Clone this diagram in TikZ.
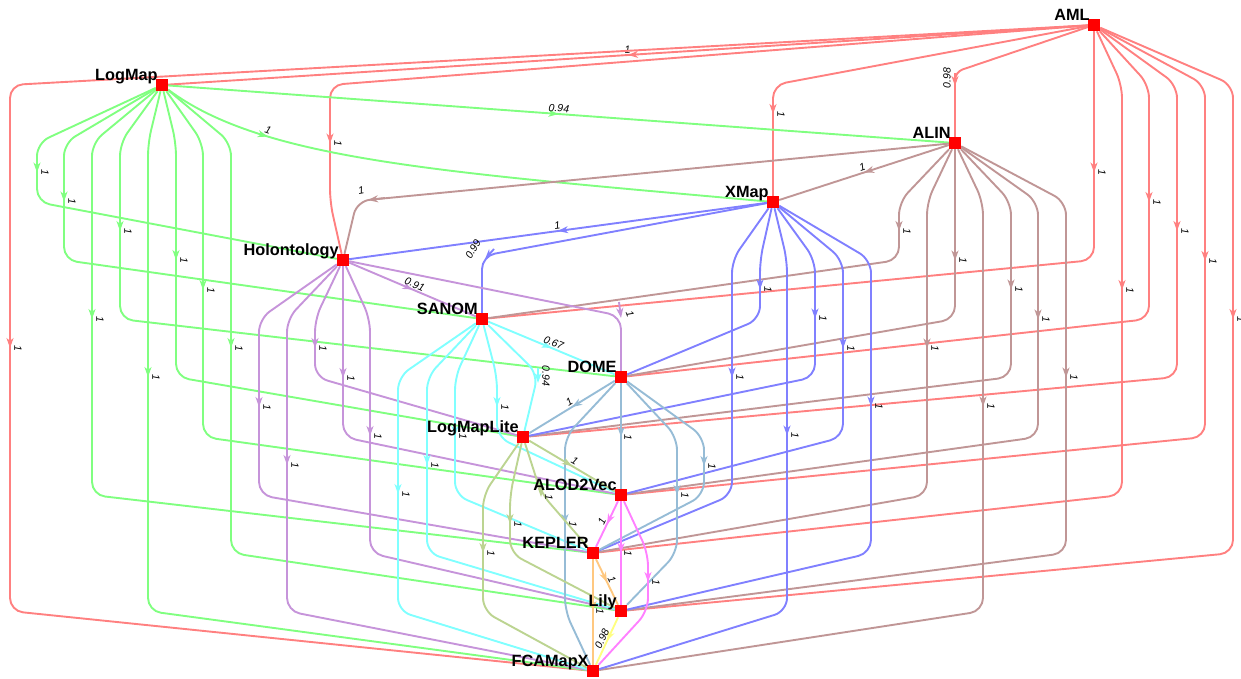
\documentclass[tikz,border=0pt]{standalone}
\usepackage{fontspec}
\setmainfont{Liberation Sans}
\usepackage{tikz}
\usetikzlibrary{arrows.meta,calc,decorations.markings}
\usepackage{xcolor}
\definecolor{boxred}{RGB}{255,0,0}
\definecolor{amlred}{RGB}{255,128,128}
\definecolor{logmapgreen}{RGB}{128,255,128}
\definecolor{alinbrown}{RGB}{192,150,150}
\definecolor{xmapblue}{RGB}{128,128,255}
\definecolor{holopurple}{RGB}{198,148,218}
\definecolor{sanomcyan}{RGB}{128,255,255}
\definecolor{domesteel}{RGB}{150,188,214}
\definecolor{lmlolive}{RGB}{188,212,145}
\definecolor{alodpink}{RGB}{255,128,255}
\definecolor{keplerorange}{RGB}{255,200,128}
\definecolor{lilyyellow}{RGB}{255,255,128}
\pgfdeclarelayer{links}
\pgfsetlayers{links,main}
\tikzstyle{vertex} = [fill=boxred, minimum size=12pt, inner sep=0pt]
\tikzstyle{vname} = [font=\bfseries\fontsize{16.3}{18}\selectfont, anchor=base east, inner sep=0pt]
\tikzstyle{link} = [line width=1.9pt, rounded corners=13pt]
\tikzstyle{tip} = [-{Stealth[length=10pt,width=7pt,inset=3pt]}, line width=1.9pt]
\tikzstyle{wt} = [font=\itshape\fontsize{10.5}{12}\selectfont, text=black, inner sep=1pt]
\tikzset{tipat/.style={postaction={decorate}, decoration={markings,
  mark=at position #1 with {\arrow{Stealth[length=10pt,width=7pt,inset=3pt]}}}}}
% lane edge: source, target, lane x, top y, bottom y, colour, weight
\newcommand{\lanelink}[7]{%
  \draw[link,#6] (#1) -- (#3,#4) -- (#3,#5) -- (#2);
  \draw[tip,#6] (#3,{(#4+#5)/2-12}) -- (#3,{(#4+#5)/2});
  \node[wt,rotate=-90] (#1-#2) at ({#3+8},{(#4+#5)/2}) {#7};
}
% straight edge between neighbouring layers: source, target, colour, weight
\newcommand{\directlink}[4]{%
  \draw[link,tipat=0.5,#3] (#1) -- node[wt,sloped,above] (#1-#2) {#4} (#2);
}

\begin{document}
\begin{tikzpicture}[x=1pt, y=-1pt]
\useasboundingbox (0,0) rectangle (1241,678);

% Systems
\node[vertex] (aml) at (1094,25) {};
\node[vertex] (logmap) at (162,85) {};
\node[vertex] (alin) at (955,143) {};
\node[vertex] (xmap) at (773,202) {};
\node[vertex] (holontology) at (343,260) {};
\node[vertex] (sanom) at (482,319) {};
\node[vertex] (dome) at (621,377) {};
\node[vertex] (logmaplite) at (523,437) {};
\node[vertex] (alod2vec) at (621,495) {};
\node[vertex] (kepler) at (593,553) {};
\node[vertex] (lily) at (621,611) {};
\node[vertex] (fcamapx) at (593,671) {};

% Names
\node[vname] (aml-t) at ($(aml.north west)+(2,2)$) {AML};
\node[vname] (logmap-t) at ($(logmap.north west)+(2,2)$) {LogMap};
\node[vname] (alin-t) at ($(alin.north west)+(2,2)$) {ALIN};
\node[vname] (xmap-t) at ($(xmap.north west)+(2,2)$) {XMap};
\node[vname] (holontology-t) at ($(holontology.north west)+(2,2)$) {Holontology};
\node[vname] (sanom-t) at ($(sanom.north west)+(2,2)$) {SANOM};
\node[vname] (dome-t) at ($(dome.north west)+(2,2)$) {DOME};
\node[vname] (logmaplite-t) at ($(logmaplite.north west)+(2,2)$) {LogMapLite};
\node[vname] (alod2vec-t) at ($(alod2vec.north west)+(2,2)$) {ALOD2Vec};
\node[vname] (kepler-t) at ($(kepler.north west)+(2,2)$) {KEPLER};
\node[vname] (lily-t) at ($(lily.north west)+(2,2)$) {Lily};
\node[vname] (fcamapx-t) at ($(fcamapx.north west)+(2,2)$) {FCAMapX};

\begin{pgfonlayer}{links}
% AML
\directlink{aml}{logmap}{amlred}{1}
\draw[link,amlred,rounded corners=8pt] (aml) -- (955,72) -- (alin);
\draw[tip,amlred] (955,73) -- (955,86);
\node[wt,rotate=90] (aml-alin) at (947,78) {0.98};
\lanelink{aml}{xmap}{773}{85}{143}{amlred}{1}
\lanelink{aml}{holontology}{330}{85}{202}{amlred}{1}
\lanelink{aml}{sanom}{1094}{85}{260}{amlred}{1}
\lanelink{aml}{dome}{1149}{85}{319}{amlred}{1}
\lanelink{aml}{logmaplite}{1177}{85}{377}{amlred}{1}
\lanelink{aml}{alod2vec}{1205}{85}{437}{amlred}{1}
\lanelink{aml}{kepler}{1122}{85}{495}{amlred}{1}
\lanelink{aml}{lily}{1233}{85}{553}{amlred}{1}
\lanelink{aml}{fcamapx}{10}{85}{611}{amlred}{1}

% LogMap
\directlink{logmap}{alin}{logmapgreen}{0.94}
\draw[link,logmapgreen,tipat=0.18] (logmap) .. controls (262,160) and (440,172) .. (xmap);
\node[wt,rotate=-20] (logmap-xmap) at (268,130) {1};
\lanelink{logmap}{holontology}{37}{143}{202}{logmapgreen}{1}
\lanelink{logmap}{sanom}{64}{143}{260}{logmapgreen}{1}
\lanelink{logmap}{dome}{120}{143}{319}{logmapgreen}{1}
\lanelink{logmap}{logmaplite}{176}{143}{377}{logmapgreen}{1}
\lanelink{logmap}{alod2vec}{203}{143}{437}{logmapgreen}{1}
\lanelink{logmap}{kepler}{92}{143}{495}{logmapgreen}{1}
\lanelink{logmap}{lily}{231}{143}{553}{logmapgreen}{1}
\lanelink{logmap}{fcamapx}{148}{143}{611}{logmapgreen}{1}

% ALIN
\directlink{alin}{xmap}{alinbrown}{1}
\draw[link,alinbrown] (alin) -- (357,201) -- (holontology);
\draw[tip,alinbrown] (385,198) -- (368,200);
\node[wt,rotate=10] (alin-holontology) at (361,190) {1};
\lanelink{alin}{sanom}{899}{202}{260}{alinbrown}{1}
\lanelink{alin}{dome}{955}{202}{319}{alinbrown}{1}
\lanelink{alin}{logmaplite}{1011}{202}{377}{alinbrown}{1}
\lanelink{alin}{alod2vec}{1038}{202}{437}{alinbrown}{1}
\lanelink{alin}{kepler}{927}{202}{495}{alinbrown}{1}
\lanelink{alin}{lily}{1066}{202}{553}{alinbrown}{1}
\lanelink{alin}{fcamapx}{983}{202}{611}{alinbrown}{1}

% XMap
\directlink{xmap}{holontology}{xmapblue}{1}
\draw[link,xmapblue] (xmap) -- (482,256) -- (sanom);
\draw[tip,xmapblue] (494,249) -- (485,259);
\node[wt,rotate=60] (xmap-sanom) at (473,249) {0.99};
\lanelink{xmap}{dome}{760}{260}{319}{xmapblue}{1}
\lanelink{xmap}{logmaplite}{815}{260}{377}{xmapblue}{1}
\lanelink{xmap}{alod2vec}{843}{260}{437}{xmapblue}{1}
\lanelink{xmap}{kepler}{732}{260}{495}{xmapblue}{1}
\lanelink{xmap}{lily}{871}{260}{553}{xmapblue}{1}
\lanelink{xmap}{fcamapx}{787}{260}{611}{xmapblue}{1}

% Holontology
\directlink{holontology}{sanom}{holopurple}{0.91}
\draw[link,holopurple] (holontology) -- (621,316) -- (dome);
\draw[tip,holopurple] (619,302) -- (621,318);
\node[wt,rotate=-70] (holontology-dome) at (630,314) {1};
\lanelink{holontology}{logmaplite}{315}{319}{377}{holopurple}{1}
\lanelink{holontology}{alod2vec}{343}{319}{437}{holopurple}{1}
\lanelink{holontology}{kepler}{259}{319}{495}{holopurple}{1}
\lanelink{holontology}{lily}{370}{319}{553}{holopurple}{1}
\lanelink{holontology}{fcamapx}{287}{319}{611}{holopurple}{1}

% SANOM
\directlink{sanom}{dome}{sanomcyan}{0.67}
\draw[link,sanomcyan] (sanom) -- (538,374) -- (logmaplite);
\draw[tip,sanomcyan] (538,368) -- (538,383);
\node[wt,rotate=-90] (sanom-logmaplite) at (546,376) {0.94};
\lanelink{sanom}{alod2vec}{497}{377}{437}{sanomcyan}{1}
\lanelink{sanom}{kepler}{455}{377}{495}{sanomcyan}{1}
\lanelink{sanom}{lily}{427}{377}{553}{sanomcyan}{1}
\lanelink{sanom}{fcamapx}{398}{377}{611}{sanomcyan}{1}

% DOME
\directlink{dome}{logmaplite}{domesteel}{1}
\draw[link,domesteel] (dome) -- (alod2vec);
\draw[tip,domesteel] (621,424) -- (621,437);
\node[wt,rotate=-90] (dome-alod2vec) at (628,437) {1};
\lanelink{dome}{kepler}{704}{437}{495}{domesteel}{1}
\lanelink{dome}{lily}{677}{437}{553}{domesteel}{1}
\lanelink{dome}{fcamapx}{565}{437}{611}{domesteel}{1}

% LogMapLite
\directlink{logmaplite}{alod2vec}{lmlolive}{1}
\draw[link,lmlolive] (logmaplite) -- (541,493) -- (kepler);
\draw[tip,lmlolive] (541,483) -- (541,497);
\node[wt,rotate=-90] (logmaplite-kepler) at (549,497) {1};
\lanelink{logmaplite}{lily}{510}{495}{553}{lmlolive}{1}
\lanelink{logmaplite}{fcamapx}{483}{495}{611}{lmlolive}{1}

% ALOD2Vec
\directlink{alod2vec}{kepler}{alodpink}{1}
\draw[link,alodpink] (alod2vec) -- (lily);
\draw[tip,alodpink] (621,540) -- (621,553);
\node[wt,rotate=-90] (alod2vec-lily) at (628,553) {1};
\lanelink{alod2vec}{fcamapx}{648}{553}{611}{alodpink}{1}

% KEPLER
\directlink{kepler}{lily}{keplerorange}{1}
\draw[link,keplerorange] (kepler) -- (fcamapx);
\draw[tip,keplerorange] (593,598) -- (593,611);
\node[wt,rotate=-90] (kepler-fcamapx) at (600,611) {1};

% Lily
\directlink{lily}{fcamapx}{lilyyellow}{0.98}
\end{pgfonlayer}
\end{tikzpicture}
\end{document}
